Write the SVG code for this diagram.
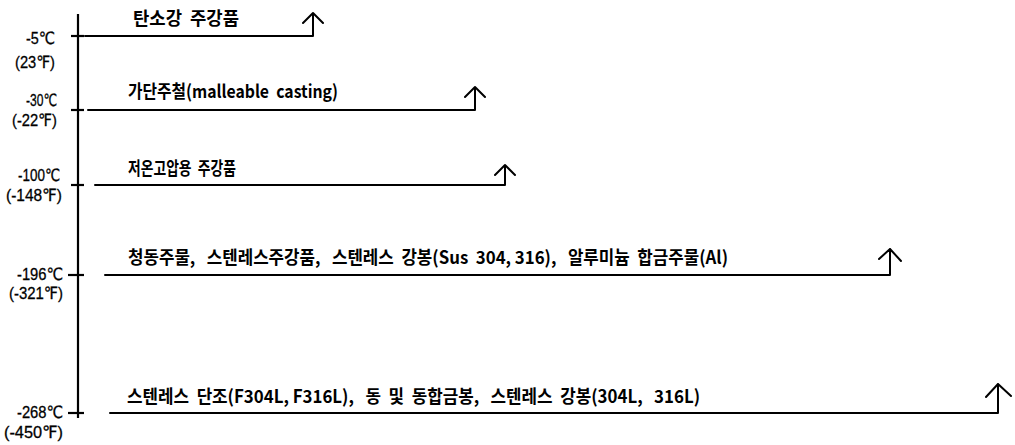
<svg xmlns="http://www.w3.org/2000/svg" width="1015" height="445" viewBox="0 0 1015 445">
<defs>
<style>
.ln{stroke:#000;stroke-width:2;fill:none;stroke-linecap:round;stroke-linejoin:round}
.ax{stroke:#000;stroke-width:2.2;fill:none}
.lbl{font-family:"Noto Sans CJK KR","Noto Sans",sans-serif;font-size:18px;font-weight:bold;fill:#000;white-space:pre}
.tmp{font-family:"Liberation Sans","DejaVu Sans",sans-serif;font-size:17px;fill:#000;stroke:#000;stroke-width:0.3;text-anchor:end}
</style>
</defs>
<rect width="1015" height="445" fill="#fff"/>
<g id="axis">
<line class="ax" x1="78" y1="14" x2="78" y2="418"/>
<line class="ax" x1="71" y1="36" x2="84" y2="36"/>
<line class="ax" x1="71" y1="110" x2="84" y2="110"/>
<line class="ax" x1="71" y1="185" x2="84" y2="185"/>
<line class="ax" x1="68" y1="275" x2="84" y2="275"/>
<line class="ax" x1="68" y1="413" x2="84" y2="413"/>
</g>
<g id="temps">
<text class="tmp" x="55" y="44" textLength="29" lengthAdjust="spacingAndGlyphs">-5℃</text>
<text class="tmp" x="55" y="68" textLength="40" lengthAdjust="spacingAndGlyphs">(23℉)</text>
<text class="tmp" x="57" y="106" textLength="31" lengthAdjust="spacingAndGlyphs">-30℃</text>
<text class="tmp" x="57" y="126" textLength="45" lengthAdjust="spacingAndGlyphs">(-22℉)</text>
<text class="tmp" x="60" y="181" textLength="42" lengthAdjust="spacingAndGlyphs">-100℃</text>
<text class="tmp" x="62" y="201" textLength="56" lengthAdjust="spacingAndGlyphs">(-148℉)</text>
<text class="tmp" x="63" y="280" textLength="46" lengthAdjust="spacingAndGlyphs">-196℃</text>
<text class="tmp" x="63" y="299" textLength="54" lengthAdjust="spacingAndGlyphs">(-321℉)</text>
<text class="tmp" x="63" y="418" textLength="46" lengthAdjust="spacingAndGlyphs">-268℃</text>
<text class="tmp" x="63" y="438" textLength="59" lengthAdjust="spacingAndGlyphs">(-450℉)</text>
</g>
<g id="connectors">
<path class="ln" d="M85 36 H313 V13 M303 23 L313 13 L323 23"/>
<path class="ln" d="M88 110 H475 V87 M465 97 L475 87 L485 97"/>
<path class="ln" d="M95 185 H505 V165 M495 175 L505 165 L515 175"/>
<path class="ln" d="M105 275 H890 V249 M879 259 L890 249 L901 261"/>
<path class="ln" d="M110 413 H998 V384 M986 397 L998 384 L1011 396"/>
</g>
<g id="n1"><text class="lbl" x="133" y="25" textLength="106" lengthAdjust="spacingAndGlyphs" xml:space="preserve">탄소강  주강품</text></g>
<g id="n2"><text class="lbl" x="128" y="98" textLength="210" lengthAdjust="spacingAndGlyphs" xml:space="preserve">가단주철(malleable  casting)</text></g>
<g id="n3"><text class="lbl" x="128" y="175" textLength="108" lengthAdjust="spacingAndGlyphs" xml:space="preserve">저온고압용  주강품</text></g>
<g id="n4"><text class="lbl" x="128" y="264" textLength="600" lengthAdjust="spacingAndGlyphs" xml:space="preserve">청동주물,   스텐레스주강품,   스텐레스  강봉(Sus  304, 316),   알루미늄  합금주물(Al)</text></g>
<g id="n5"><text class="lbl" x="127" y="403" textLength="573" lengthAdjust="spacingAndGlyphs" xml:space="preserve">스텐레스  단조(F304L, F316L),   동  및  동합금봉,   스텐레스  강봉(304L,   316L)</text></g>
</svg>
